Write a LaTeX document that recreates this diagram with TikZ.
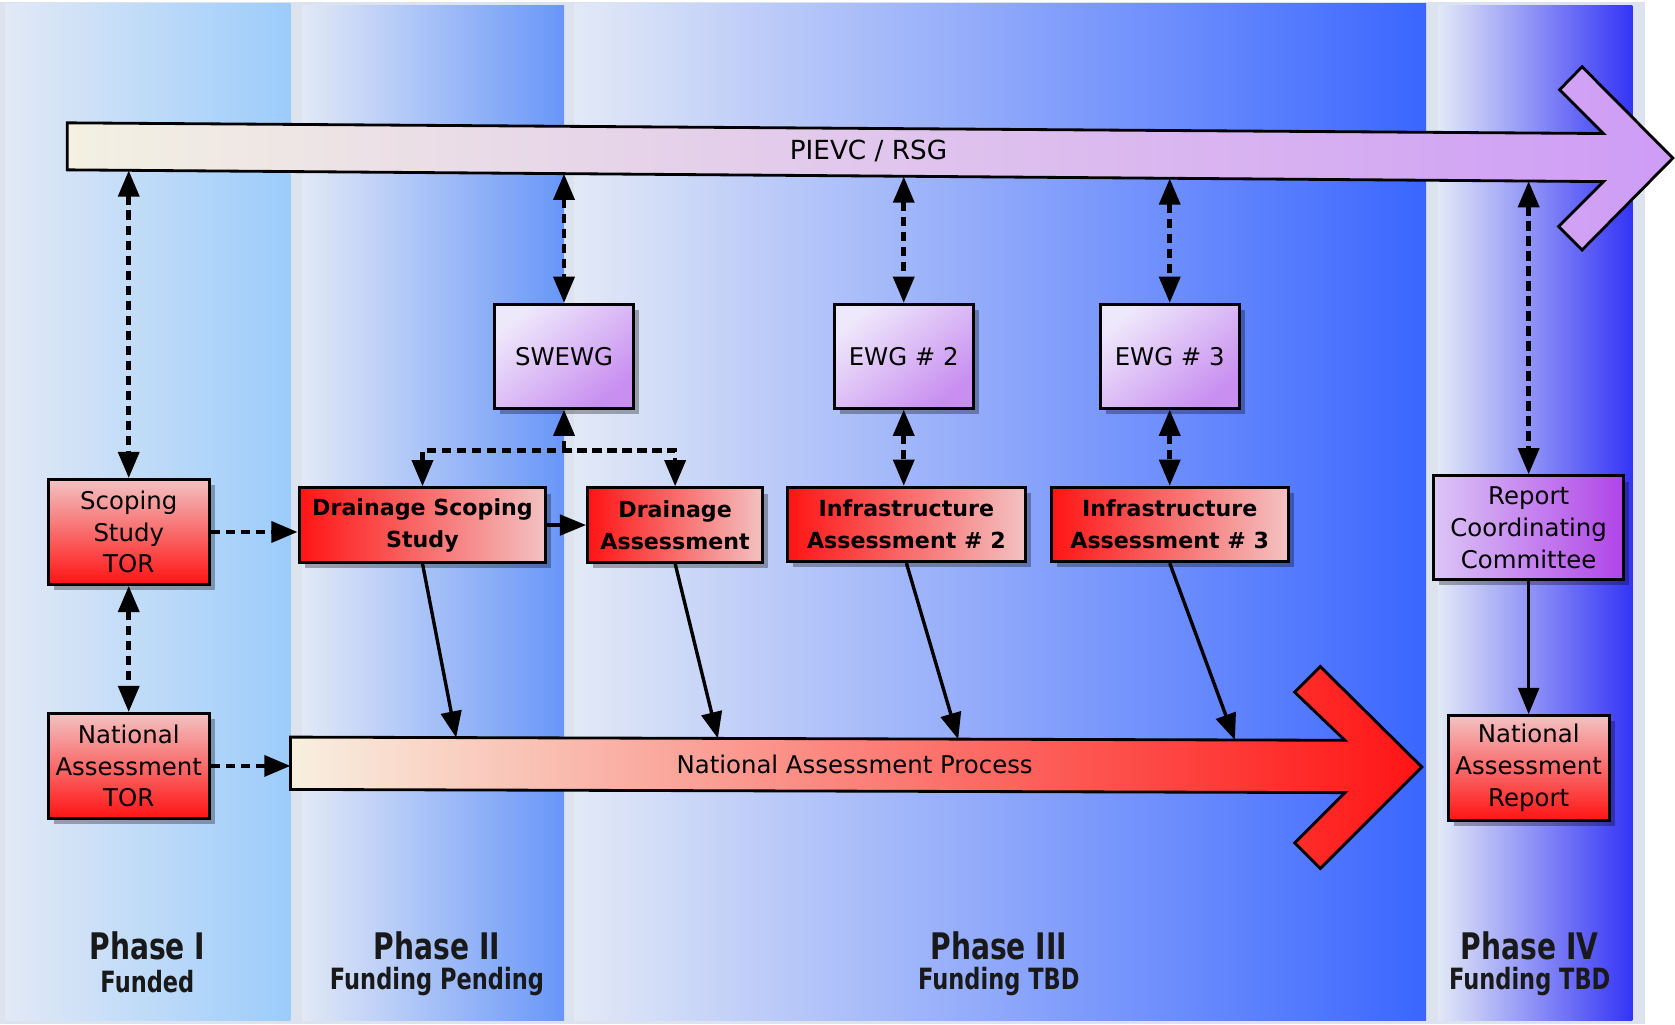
\documentclass[tikz,border=0pt]{standalone}
\usepackage{fontspec}
\setmainfont{DejaVu Sans}
\usepackage{graphicx}
\usetikzlibrary{arrows.meta,shadows}

\definecolor{bgstrip}{HTML}{DCE3EE}
\definecolor{panlight}{HTML}{E2E9F6}
\definecolor{panIr}{HTML}{9CCCFB}
\definecolor{panIIr}{HTML}{6896F8}
\definecolor{panIIIr}{HTML}{3A66FF}
\definecolor{panIVr}{HTML}{3434F6}
\definecolor{cream}{HTML}{F3F1E2}
\definecolor{lav}{HTML}{CE9CF6}
\definecolor{napcream}{HTML}{F8F0E0}
\definecolor{boxred}{HTML}{FF1414}
\definecolor{boxpink}{HTML}{F3C2C2}
\definecolor{purlight}{HTML}{EEE8FB}
\definecolor{purdark}{HTML}{C88EF0}
\definecolor{rcclight}{HTML}{DCC6F6}
\definecolor{rccdark}{HTML}{B044E8}

\begin{document}
\begin{tikzpicture}[x=0.02cm,y=-0.02cm,
  box/.style={draw=black, line width=1.6pt, align=center, inner sep=1pt,
    drop shadow={shadow xshift=3pt, shadow yshift=-3pt, opacity=0.3, fill=black}},
  regtext/.style={font=\fontsize{13}{17}\selectfont},
  boldtext/.style={font=\fontsize{11.8}{17}\selectfont\bfseries},
  redh/.style={box, boldtext, left color=boxred, right color=boxpink,
    minimum height=1.39cm},
  redv/.style={box, regtext, top color=boxpink, bottom color=boxred,
    minimum width=3.02cm, minimum height=1.96cm},
  purbox/.style={box, regtext, top color=purlight, bottom color=purdark,
    shading angle=40, minimum width=2.6cm, minimum height=1.94cm},
  tipm/.tip={Triangle[length=14pt,width=11pt]},
  dboth/.style={draw, line width=2.5pt, dash pattern=on 5pt off 3pt, tipm-tipm},
  done/.style={draw, line width=2.5pt, dash pattern=on 5pt off 3pt, -tipm},
  solidarr/.style={draw, line width=1.8pt, -tipm},
  phasetitle/.style={font=\fontsize{15}{18}\selectfont\bfseries, text=black!90},
  phasesub/.style={font=\fontsize{12}{15}\selectfont\bfseries, text=black!90},
  bigarrow/.style={draw=black, line width=1.5pt, line join=miter}
]
\useasboundingbox (0,0) rectangle (1568,959);
\fill[white] (0,0) rectangle (1568,959);
\fill[bgstrip] (0,0) rectangle (1540,959);
\fill[white] (0,0) rectangle (1568,2);

% phase panels
\shade[left color=panlight, right color=panIr] (5,3) rectangle (272,955);
\shade[left color=panlight, right color=panIIr] (283,5) rectangle (528,955);
\shade[left color=panlight, right color=panIIIr] (538,3) rectangle (1335,955);
\shade[left color=panlight, right color=panIVr] (1346,5) rectangle (1528,955);

% PIEVC / RSG arrow
\path[bigarrow, left color=cream, right color=lav]
  (63,115) -- (1501,125) -- (1460,84) -- (1481,62.5) -- (1566,148)
  -- (1481,234) -- (1459,212) -- (1501,170) -- (63,159) -- cycle;
\node[font=\fontsize{14}{16}\selectfont] (pievc) at (813,141) {PIEVC / RSG};

% National Assessment Process arrow
\path[bigarrow, left color=napcream, right color=boxred]
  (272,690) -- (1259,693) -- (1212,648) -- (1236,624) -- (1331,718)
  -- (1236,813) -- (1212,789) -- (1259,742) -- (272,739) -- cycle;
\node[font=\fontsize{13}{16}\selectfont] (nap) at (800,716) {National Assessment Process};

% boxes
\node[redv] (sst) at (120.5,498) {Scoping\\Study\\TOR};
\node[redv] (nat) at (120.5,717) {National\\Assessment\\TOR};
\node[redh, minimum width=4.62cm] (dss) at (395.5,491.5) {Drainage Scoping\\Study};
\node[redh, minimum width=3.28cm] (da) at (632,491.5) {Drainage\\Assessment};
\node[redh, minimum width=4.46cm] (ia2) at (848.5,491) {Infrastructure\\Assessment \# 2};
\node[redh, minimum width=4.44cm] (ia3) at (1095,491) {Infrastructure\\Assessment \# 3};
\node[purbox] (swewg) at (528,333.5) {SWEWG};
\node[purbox] (ewg2) at (846,333.5) {EWG \# 2};
\node[purbox] (ewg3) at (1095,333.5) {EWG \# 3};
\node[box, regtext, left color=rcclight, right color=rccdark,
  minimum width=3.56cm, minimum height=1.94cm] (rcc) at (1431,494) {Report\\Coordinating\\Committee};
\node[redv] (nar) at (1431,719) {National\\Assessment\\Report};

% named connector ends on the big arrows
\coordinate (pb1) at (120.5,159.5);
\coordinate (pb2) at (528,162.6);
\coordinate (pb3) at (846,165.2);
\coordinate (pb4) at (1095,167);
\coordinate (pb5) at (1431,169.5);
\coordinate (napL) at (272,716);
\coordinate (nap1) at (427,690.5);
\coordinate (nap2) at (672,691.2);
\coordinate (nap3) at (897,692);
\coordinate (nap4) at (1156,692.7);
\coordinate (tm) at (528,422);

% connectors
\draw[dboth] (pb1) -- (sst.north);
\draw[dboth] (pb2) -- (swewg.north);
\draw[dboth] (pb3) -- (ewg2.north);
\draw[dboth] (pb4) -- (ewg3.north);
\draw[dboth] (pb5) -- (rcc.north);
\draw[dboth] (sst.south) -- (nat.north);
\draw[dboth] (ewg2.south) -- (ewg2.south |- ia2.north);
\draw[dboth] (ewg3.south) -- (ia3.north);
\draw[done] (tm) -- (swewg.south);
\draw[dboth] (dss.north) -- (dss.north |- tm) -- (da.north |- tm) -- (da.north);
\draw[done] (sst.east) -- (sst.east -| dss.west);
\draw[done] (nat.east) -- (nat.east -| napL);
\draw[solidarr] (dss.east) -- (da.west);
\draw[solidarr] (dss.south) -- (nap1);
\draw[solidarr] (da.south) -- (nap2);
\draw[solidarr] (ia2.south) -- (nap3);
\draw[solidarr] (ia3.south) -- (nap4);
\draw[solidarr] (rcc.south) -- (rcc.south |- nar.north);

% phase labels
\node[phasetitle] (ph1) at (138,885) {\scalebox{1}[1.3]{Phase I}};
\node[phasesub] (fu1) at (138,919) {\scalebox{1}[1.3]{Funded}};
\node[phasetitle] (ph2) at (409,885) {\scalebox{1}[1.3]{Phase II}};
\node[phasesub] (fu2) at (409,919) {\scalebox{1}[1.3]{Funding Pending}};
\node[phasetitle] (ph3) at (935,885) {\scalebox{1}[1.3]{Phase III}};
\node[phasesub] (fu3) at (935,919) {\scalebox{1}[1.3]{Funding TBD}};
\node[phasetitle] (ph4) at (1432,885) {\scalebox{1}[1.3]{Phase IV}};
\node[phasesub] (fu4) at (1432,919) {\scalebox{1}[1.3]{Funding TBD}};
\end{tikzpicture}
\end{document}
